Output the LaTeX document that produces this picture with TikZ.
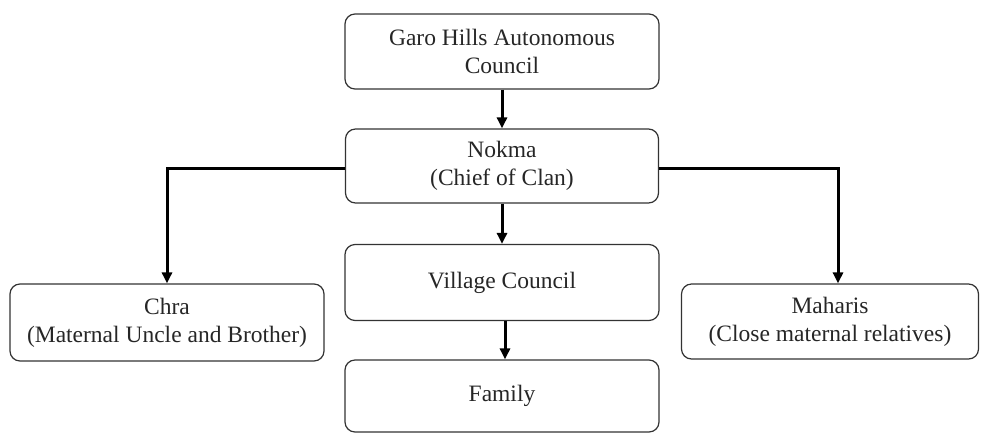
\documentclass[tikz,border=0pt]{standalone}
\usepackage{fontspec}
\setmainfont{Liberation Serif}
\usetikzlibrary{arrows.meta}
\begin{document}
\begin{tikzpicture}[x=1pt,y=-1pt,
  box/.style={draw=black!80, line width=1.2pt, rounded corners=10pt, align=center, inner sep=0pt, font=\fontsize{23.5}{28}\selectfont, text=black!85},
  link/.style={line width=3pt, -{Triangle[length=11pt,width=10pt]}}]
\useasboundingbox (0,0) rectangle (982,432);
\node[box, minimum width=314pt, minimum height=75pt] (garo) at (502,51.5) {Garo Hills Autonomous\\Council};
\node[box, minimum width=313pt, minimum height=74pt] (nokma) at (502,166) {Nokma\\(Chief of Clan)};
\node[box, minimum width=314pt, minimum height=76pt] (village) at (502,282.5) {Village Council};
\node[box, minimum width=314pt, minimum height=72pt] (family) at (502,396) {Family};
\node[box, minimum width=314pt, minimum height=77pt] (chra) at (167,322.5) {Chra\\(Maternal Uncle and Brother)};
\node[box, minimum width=297pt, minimum height=75pt] (maharis) at (830,321.5) {Maharis\\(Close maternal relatives)};
\coordinate (lt) at (167,168);
\coordinate (rt) at (838,168);
\draw[link] (garo.south) -- (nokma.north);
\draw[link] (nokma.south) -- (village.north);
\draw[link] ([xshift=3pt]village.south) -- ([xshift=3pt]family.north);
\draw[link] (nokma.west |- lt) -- (lt) -- (chra.north);
\draw[link] (nokma.east |- rt) -- (rt) -- (rt |- maharis.north);
\end{tikzpicture}
\end{document}
